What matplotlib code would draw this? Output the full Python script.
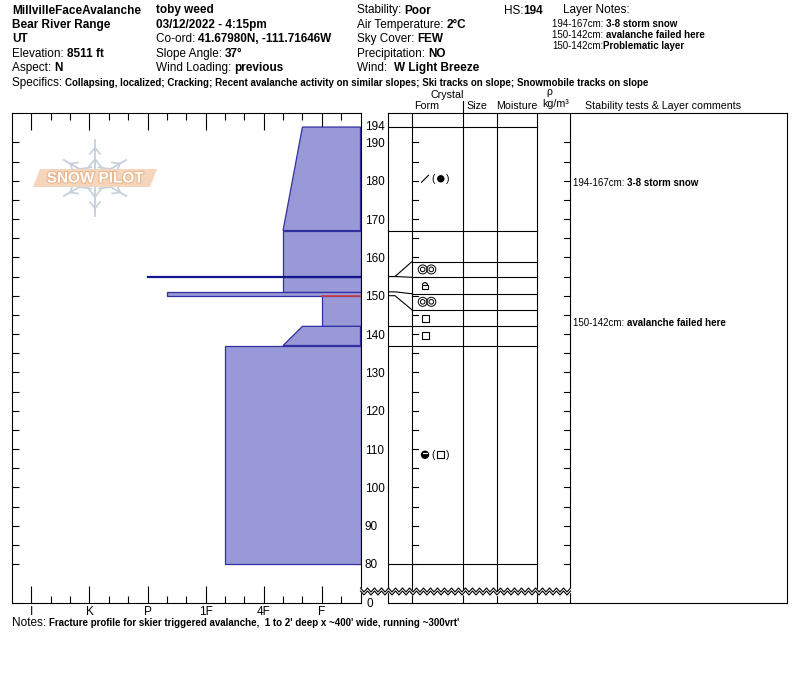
import matplotlib
matplotlib.use("Agg")
import matplotlib.pyplot as plt
from matplotlib.patches import Polygon, Rectangle, Ellipse, Arc
from matplotlib.transforms import blended_transform_factory
import matplotlib.patheffects as pe
import numpy as np

plt.rcParams['font.family'] = ['Liberation Sans', 'DejaVu Sans']

W, H = 800, 676
PX_CM = 3.833          # vertical pixels per cm
Y80 = 564              # pixel row of the 80 cm line

# ---------------- data ----------------
hard_names = ['F-', 'F', 'F+', '4F-', '4F', '4F+', '1F-', '1F', '1F+',
              'P-', 'P', 'P+', 'K-', 'K', 'K+', 'I-', 'I']
hard_val = {n: i + 1 for i, n in enumerate(hard_names)}
hard_labels = ['F', '4F', '1F', 'P', 'K', 'I']

# layer boundaries (real heights) and where they are drawn in the table
bound_real = [194, 167, 155, 155, 151, 150, 142, 137, 80]
bound_disp = [194, 167, 158.9, 154.8, 150.5, 146.3, 142, 137, 80]
hard_top = ['F+', '4F-', 'P', '4F-', 'P-', 'F', 'F+', '1F-']
hard_bottom = ['4F-', '4F-', 'P', '4F-', 'P-', 'F', '4F-', '1F-']
critical = [False, False, False, False, False, True, False, False]
grain1 = ['DF', '', 'MFcl', 'MFcr', 'MFcl', 'FC', 'FC', 'MFpc']
grain2 = ['PPgp', '', '', '', '', '', '', 'FC']

layer_comments = [('194-167cm: ', '3-8 storm snow', 179.5),
                  ('150-142cm: ', 'avalanche failed here', 143.0)]
layer_notes = [('194-167cm: ', '3-8 storm snow'),
               ('150-142cm: ', 'avalanche failed here'),
               ('150-142cm:', 'Problematic layer')]

header = [
    [(12, [('MillvilleFaceAvalanche', True)]),
     (156, [('toby weed', True)]),
     (357, [('Stability: ', False), ('Poor', True)]),
     (504, [('HS:', False), ('194', True)]),
     (563, [('Layer Notes:', False)])],
    [(12, [('Bear River Range', True)]),
     (156, [('03/12/2022 - 4:15pm', True)]),
     (357, [('Air Temperature: ', False), ('2°C', True)])],
    [(12, [('UT', True)]),
     (156, [('Co-ord: ', False), ('41.67980N, -111.71646W', True)]),
     (357, [('Sky Cover: ', False), ('FEW', True)])],
    [(12, [('Elevation: ', False), ('8511 ft', True)]),
     (156, [('Slope Angle: ', False), ('37°', True)]),
     (357, [('Precipitation: ', False), ('NO', True)])],
    [(12, [('Aspect: ', False), ('N', True)]),
     (156, [('Wind Loading: ', False), ('previous', True)]),
     (357, [('Wind:  ', False), ('W Light Breeze', True)])],
]
specifics = ('Collapsing, localized; Cracking; Recent avalanche activity on similar slopes; '
             'Ski tracks on slope; Snowmobile tracks on slope')
notes = "Fracture profile for skier triggered avalanche,  1 to 2' deep x ~400' wide, running ~300vrt'"

FILL = '#9999d8'
EDGE = '#3030a0'

fig = plt.figure(figsize=(W / 100, H / 100), dpi=100)
renderer = fig.canvas.get_renderer()


def fy(y):
    return 1 - y / H


def hpx(h):
    return Y80 - (h - 80) * PX_CM


def rich(x, y, parts, size=8.5, bsize=None):
    bsize = bsize or size
    for txt, bold in parts:
        t = fig.text(x / W, fy(y), txt, fontsize=bsize if bold else size,
                     fontweight='bold' if bold else 'normal', va='baseline', ha='left')
        x += t.get_window_extent(renderer=renderer).width


# ---------------- header ----------------
for i, row in enumerate(header):
    base = 13.5 + i * 14.4
    for x, parts in row:
        rich(x, base, parts)
for i, (a, b) in enumerate(layer_notes):
    rich(552, 27.3 + i * 10.7, [(a, False), (b, True)], size=7.0)
rich(12, 86, [('Specifics: ', False), (specifics, True)], size=8.5, bsize=7.0)
rich(12, 626, [('Notes: ', False), (notes, True)], size=8.5, bsize=7.0)

# ---------------- hardness profile ----------------
ylo = 80 - (603 - Y80) / PX_CM
yhi = 80 + (Y80 - 113) / PX_CM
ax = fig.add_axes([12 / W, fy(603), 348.5 / W, 490 / H])
ax.set_xlim(18, 0)
ax.set_ylim(ylo, yhi)
for i in range(len(hard_top)):
    top, bot = bound_real[i], bound_real[i + 1]
    ht, hb = hard_val[hard_top[i]], hard_val[hard_bottom[i]]
    if top == bot:
        ax.plot([0, ht], [top, top], color='#14148c', lw=1.6, zorder=4)
    else:
        ax.add_patch(Polygon([(0, top), (ht, top), (hb, bot), (0, bot)], closed=True,
                             facecolor=FILL, edgecolor=EDGE, lw=0.9, zorder=2))
    if critical[i]:
        ax.plot([0, ht], [top, top], color='#d23c3c', lw=1.2, zorder=5)

ax.set_xticks([hard_val[n] for n in hard_labels])
ax.set_xticklabels(hard_labels)
ax.set_xticks([v for v in range(1, 18) if hard_names[v - 1] not in hard_labels], minor=True)
ax.tick_params(axis='x', which='major', direction='in', length=12, width=0.8,
               top=True, bottom=True, labelsize=8.5, pad=2)
ax.tick_params(axis='x', which='minor', direction='in', length=5, width=0.8,
               top=True, bottom=True)
hticks = list(range(80, 195, 5))
ax.set_yticks(hticks)
ax.set_yticklabels([str(h) if h % 10 == 0 else '' for h in hticks])
ax.tick_params(axis='y', direction='in', length=5, width=0.8, left=True, right=True,
               labelleft=False, labelright=True, labelsize=8.5, pad=3.2)
for s in ax.spines.values():
    s.set_linewidth(0.8)
btr = blended_transform_factory(ax.transAxes, ax.transData)
ax.text(1 + 4.5 / 348.5, 194, '194', transform=btr, va='center', ha='left', fontsize=8.5)
ax.text(1 + 6 / 348.5, ylo - 0.3, '0', transform=btr, va='center', ha='left', fontsize=8.5)

# ---------------- layer table ----------------
tx = fig.add_axes([388 / W, fy(603), 399 / W, 490 / H])
tx.set_xlim(0, 399)
tx.set_ylim(ylo, yhi)
tx.set_xticks([])
tx.set_yticks([])
for s in tx.spines.values():
    s.set_linewidth(0.8)
cols = [24, 75.3, 109, 149, 182]
for c in cols:
    tx.plot([c, c], [ylo, yhi], color='k', lw=0.8)
for h in range(80, 191, 5):
    tx.plot([24, 30], [h, h], color='k', lw=0.8)
    tx.plot([176, 182], [h, h], color='k', lw=0.8)
for a, d in zip(bound_real, bound_disp):
    if a == d:
        tx.plot([0, 149], [d, d], color='k', lw=0.8)
    else:
        tx.plot([0, 7, 24], [a, a, d], color='k', lw=0.8)
        tx.plot([24, 149], [d, d], color='k', lw=0.8)


def grain_symbol(code, x, y):
    k = PX_CM
    if code == 'DF':
        tx.plot([x - 3.5, x + 3.5], [y - 3.5 / k, y + 3.5 / k], color='k', lw=0.8)
    elif code == 'PPgp':
        tx.add_patch(Ellipse((x, y), 6, 6 / k, color='k'))
    elif code == 'MFcl':
        for dx in (-4.3, 4.3):
            tx.add_patch(Ellipse((x + 2 + dx, y), 9, 9 / k, fill=False, lw=0.7, ec='k'))
            tx.add_patch(Ellipse((x + 2 + dx, y), 4.6, 4.6 / k, fill=False, lw=0.7, ec='k'))
    elif code == 'MFcr':
        tx.add_patch(Rectangle((x - 3, y - 3.2 / k), 6, 3.6 / k, fill=False, lw=0.8, ec='k'))
        tx.add_patch(Arc((x, y + 0.4 / k), 5, 5 / k, theta1=0, theta2=180, lw=0.8, color='k'))
    elif code == 'FC':
        tx.add_patch(Rectangle((x - 3.5, y - 3.5 / k), 7, 7 / k, fill=False, lw=0.8, ec='k'))
    elif code == 'MFpc':
        tx.add_patch(Ellipse((x, y), 7, 7 / k, color='k'))
        tx.plot([x - 2.3, x + 2.3], [y + 1.4 / k, y + 1.4 / k], color='white', lw=0.8)


for i in range(len(grain1)):
    ymid = (bound_disp[i] + bound_disp[i + 1]) / 2
    x0 = 37
    grain_symbol(grain1[i], x0, ymid)
    if grain2[i]:
        tx.text(x0 + 8, ymid, '(', fontsize=7.5, ha='center', va='center')
        grain_symbol(grain2[i], x0 + 15.8, ymid)
        tx.text(x0 + 23, ymid, ')', fontsize=7.5, ha='center', va='center')

for a, b, h in layer_comments:
    rich(573, hpx(h) + 3.5, [(a, False), (b, True)], size=7.0)

# column headings
hd = dict(fontsize=7.7, ha='center', va='center')
fig.text(447 / W, fy(95), 'Crystal', **hd)
fig.text(427 / W, fy(106), 'Form', **hd)
fig.text(477 / W, fy(106), 'Size', **hd)
fig.text(517 / W, fy(106), 'Moisture', **hd)
fig.text(549 / W, fy(92), 'ρ', **hd)
fig.text(556 / W, fy(104), 'kg/m³', **hd)
fig.text(585 / W, fy(106), 'Stability tests & Layer comments', fontsize=7.7, ha='left', va='center')

# ---------------- overlay: break marks, watermark ----------------
ov = fig.add_axes([0, 0, 1, 1], zorder=10)
ov.set_xlim(0, W)
ov.set_ylim(H, 0)
ov.axis('off')
ov.patch.set_visible(False)
ov.plot([463, 463], [101, 113], color='k', lw=0.8)

zx = np.arange(360.5, 571, 3.5)
zy = 588 + 4 * (np.arange(len(zx)) % 2)
ov.fill_between(zx, zy, zy + 3, color='white', zorder=1)
ov.plot(zx, zy, color='k', lw=0.8, zorder=2)
ov.plot(zx, zy + 3, color='k', lw=0.8, zorder=2)

# snow pilot watermark
cx, cy = 95, 178
flake = '#c6cfdb'
for ang in [90, 270, 30, 150, 210, 330]:
    L = 38 if ang in (90, 270) else 36
    r = np.radians(ang)
    ux, uy = np.cos(r), -np.sin(r)
    ov.plot([cx, cx + L * ux], [cy, cy + L * uy], color=flake, lw=1.3, zorder=0)
    for f in (0.5, 0.8):
        px, py = cx + f * L * ux, cy + f * L * uy
        for s in (1, -1):
            r2 = r + s * np.radians(38)
            bl = 12 if f < 0.7 else 8
            ov.plot([px, px - bl * np.cos(r2)], [py, py + bl * np.sin(r2)],
                    color=flake, lw=1.2, zorder=0)
ov.add_patch(Polygon([(40, 169), (157, 169), (150, 187), (33, 187)], closed=True,
                     facecolor='#f5d6bc', edgecolor='none', zorder=0.5))
ov.text(cx, cy + 0.5, 'SNOW PILOT', fontsize=11, color='white', fontweight='bold',
        ha='center', va='center', zorder=0.6,
        path_effects=[pe.withStroke(linewidth=1.6, foreground='#e9b78e')])

fig.savefig('out.png', dpi=100)
